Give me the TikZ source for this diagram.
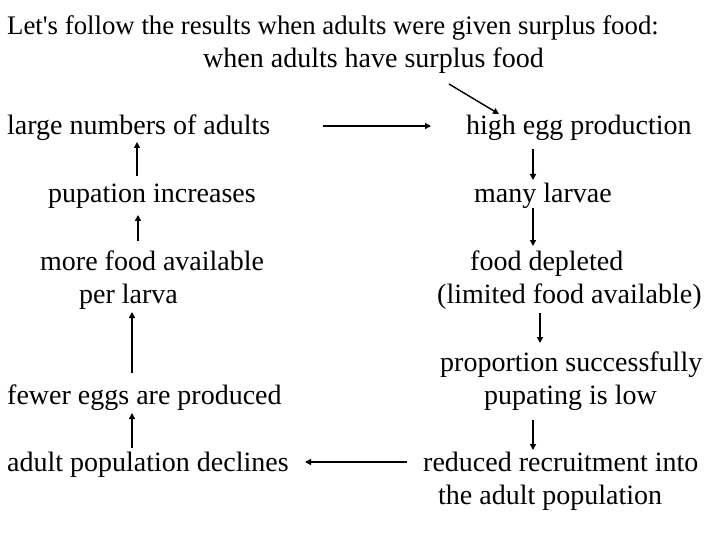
\documentclass[tikz,border=0pt]{standalone}
\usepackage{fontspec}
\setmainfont{Liberation Serif}
\newfontfamily\plainserif{Liberation Serif}
\usetikzlibrary{arrows.meta}
\begin{document}
\begin{tikzpicture}[x=1pt,y=-1pt,
  lbl/.style={anchor=base west,inner sep=0pt,font=\fontsize{28}{32}\selectfont},
  ttl/.style={anchor=base west,inner sep=0pt,font=\plainserif\fontsize{26.8}{30}\selectfont},
  arr/.style={line width=1.4pt,-{Triangle[length=6pt,width=6pt]}}]
\useasboundingbox[fill=white] (0,0) rectangle (720,540);
\node[ttl] (t1) at (7,35) {Let's follow the results when adults were given surplus food:};
\node[lbl] (t2) at (203,68) {when adults have surplus food};
\node[lbl] (a1) at (7,135) {large numbers of adults};
\node[lbl] (b1) at (466,135) {high egg production};
\node[lbl] (a2) at (48,203) {pupation increases};
\node[lbl] (b2) at (474,203) {many larvae};
\node[lbl] (a3) at (40,270) {more food available};
\node[lbl] (a3b) at (79,303) {per larva};
\node[lbl] (b3) at (470,270) {food depleted};
\node[lbl] (b3b) at (437,303) {(limited food available)};
\node[lbl] (b4) at (440,371) {proportion successfully};
\node[lbl] (b4b) at (484,404) {pupating is low};
\node[lbl] (a4) at (7,404) {fewer eggs are produced};
\node[lbl] (a5) at (7,471) {adult population declines};
\node[lbl] (b5) at (423,471) {reduced recruitment into};
\node[lbl] (b5b) at (438,504) {the adult population};
% arrows
\coordinate (d0) at (449,84); \coordinate (d1) at (499,114);
\draw[arr] (d0) -- (d1);
\coordinate (h0) at (323,126); \coordinate (h1) at (431,126);
\draw[arr] (h0) -- (h1);
\coordinate (u1s) at (137,176); \coordinate (u1e) at (137,142);
\draw[arr] (u1s) -- (u1e);
\coordinate (u2s) at (138,241); \coordinate (u2e) at (138,215);
\draw[arr] (u2s) -- (u2e);
\coordinate (u3s) at (132,373); \coordinate (u3e) at (132,312);
\draw[arr] (u3s) -- (u3e);
\coordinate (u4s) at (132,448); \coordinate (u4e) at (132,413);
\draw[arr] (u4s) -- (u4e);
\coordinate (r1s) at (533,149); \coordinate (r1e) at (533,180);
\draw[arr] (r1s) -- (r1e);
\coordinate (r2s) at (533,208); \coordinate (r2e) at (533,246);
\draw[arr] (r2s) -- (r2e);
\coordinate (r3s) at (540,313); \coordinate (r3e) at (540,343);
\draw[arr] (r3s) -- (r3e);
\coordinate (r4s) at (533,420); \coordinate (r4e) at (533,450);
\draw[arr] (r4s) -- (r4e);
\coordinate (l0) at (407,462); \coordinate (l1) at (305,462);
\draw[arr] (l0) -- (l1);
\end{tikzpicture}
\end{document}
